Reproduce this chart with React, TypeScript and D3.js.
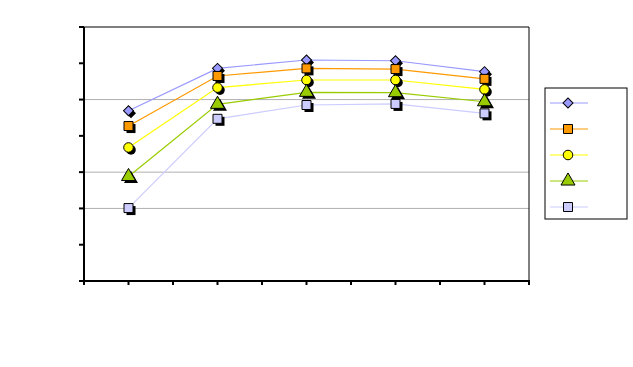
import React from 'react';
import * as d3 from 'd3';

// x positions on a 0..10 axis, values on a 0..7 axis (no labels in the source chart)
const xPositions = [1, 3, 5, 7, 9];
const seriesNames = ['s1', 's2', 's3', 's4', 's5'];
const s1 = [4.69, 5.86, 6.09, 6.07, 5.77];
const s2 = [4.27, 5.65, 5.86, 5.84, 5.57];
const s3 = [3.68, 5.33, 5.54, 5.54, 5.28];
const s4 = [2.88, 4.87, 5.2, 5.19, 4.94];
const s5 = [2.01, 4.47, 4.85, 4.88, 4.62];
const gridValues = [2, 3, 5];

const seriesValues = [s1, s2, s3, s4, s5];
const fills = ['#9999ff', '#ff9900', '#ffff00', '#99cc00', '#ccccff'];
const strokes = ['#9999ff', '#ff9900', '#ffff00', '#99cc00', '#ccccff'];
const symbols = [d3.symbolSquare, d3.symbolSquare, d3.symbolCircle, d3.symbolTriangle, d3.symbolSquare];
const symSizes = [50, 81, 72, 85, 81];
const rotations = [45, 0, 0, 0, 0];

export default function App() {
  const W = 633, H = 367;
  const left = 84, right = 529, top = 27, bottom = 281;

  const x = d3.scaleLinear().domain([0, 10]).range([left, right]);
  const y = d3.scaleLinear().domain([0, 7]).range([bottom, top]);
  const line = d3.line<number>()
    .x((_, i) => x(xPositions[i]))
    .y(d => y(d));

  const marker = (k: number, cx: number, cy: number, shadow: boolean, key: string) => {
    const path = d3.symbol(symbols[k], symSizes[k])() || '';
    const rot = rotations[k] ? ` rotate(${rotations[k]})` : '';
    return (
      <g key={key}>
        {shadow && <path d={path} transform={`translate(${cx + 2.5},${cy + 2.5})${rot}`} fill="#000" />}
        <path d={path} transform={`translate(${cx},${cy})${rot}`} fill={fills[k]} stroke="#000" strokeWidth={1} />
      </g>
    );
  };

  const legendX = 545, legendY = 88, legendW = 82, legendH = 131;
  const legendRows = [103, 129, 155, 181, 207];

  return (
    <svg width={W} height={H} style={{ position: 'absolute', left: 0, top: 0, background: '#fff' }}>
      <rect x={0} y={0} width={W} height={H} fill="#fff" />
      {gridValues.map(v => (
        <line key={v} x1={left} x2={right} y1={y(v)} y2={y(v)} stroke="#b0b0b0" strokeWidth={1} />
      ))}
      <line x1={left} x2={right} y1={top} y2={top} stroke="#000" strokeWidth={1} />
      <line x1={right} x2={right} y1={top} y2={bottom} stroke="#000" strokeWidth={1} />
      {/* y axis */}
      <line x1={left} x2={left} y1={top} y2={bottom + 1} stroke="#000" strokeWidth={2} />
      {y.ticks(7).map(t => (
        <line key={'yt' + t} x1={left - 5} x2={left} y1={y(t)} y2={y(t)} stroke="#000" strokeWidth={2} />
      ))}
      {/* x axis */}
      <line x1={left - 5} x2={right + 1} y1={bottom} y2={bottom} stroke="#000" strokeWidth={2} />
      {x.ticks(10).map(t => (
        <line key={'xt' + t} x1={x(t)} x2={x(t)} y1={bottom} y2={bottom + 4} stroke="#000" strokeWidth={2} />
      ))}
      {seriesValues.map((vals, k) => (
        <path key={'l' + seriesNames[k]} d={line(vals) || ''} fill="none" stroke={strokes[k]} strokeWidth={1.2} />
      ))}
      {seriesValues.map((vals, k) =>
        vals.map((v, i) => marker(k, x(xPositions[i]), y(v), true, `m${k}-${i}`))
      )}
      {/* legend */}
      <rect x={legendX} y={legendY} width={legendW} height={legendH} fill="#fff" stroke="#000" strokeWidth={1} />
      {legendRows.map((ry, k) => (
        <g key={'lg' + k}>
          <line x1={550} x2={588} y1={ry} y2={ry} stroke={strokes[k]} strokeWidth={1.2} />
          {marker(k, 568, ry, false, 'lm' + k)}
        </g>
      ))}
    </svg>
  );
}
